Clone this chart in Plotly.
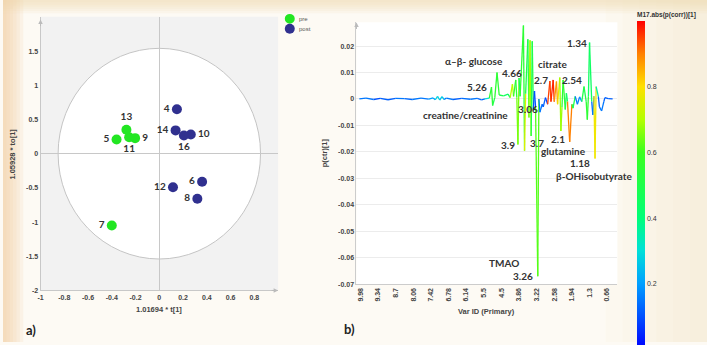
import plotly.graph_objects as go
from plotly.colors import sample_colorscale

# ---------------- Panel a: OPLS-DA scores ----------------
pre_ids = ["5", "7", "9", "11", "13"]
pre_t = [-0.36, -0.40, -0.204, -0.254, -0.277]
pre_to = [0.207, -1.05, 0.227, 0.24, 0.35]
pre_pos = ["middle left", "middle left", "middle right", "bottom center", "top center"]

post_ids = ["4", "6", "8", "10", "12", "14", "16"]
post_t = [0.148, 0.36, 0.32, 0.265, 0.115, 0.137, 0.207]
post_to = [0.65, -0.41, -0.66, 0.28, -0.49, 0.34, 0.265]
post_pos = ["middle left", "middle left", "middle left", "middle right",
            "middle left", "middle left", "bottom center"]

a_xticks = [-1, -0.8, -0.6, -0.4, -0.2, 0, 0.2, 0.4, 0.6, 0.8]
a_xticklabels = ["-1", "-0.8", "-0.6", "-0.4", "-0.2", "0", "0.2", "0.4", "0.6", "0.8"]
a_yticks = [-2, -1.5, -1, -0.5, 0, 0.5, 1, 1.5]
a_yticklabels = ["-2", "-1.5", "-1", "-0.5", "0", "0.5", "1", "1.5"]

# Hotelling T2 ellipse semi-axes
t2_a = 0.852
t2_b = 1.54

# ---------------- Panel b: loading line ----------------
var_id = [-1, 5, 12, 18, 25, 32, 40, 47, 55, 62, 66, 68, 70, 72, 74, 76, 78, 84, 92, 100, 106, 110, 113,
          117, 119, 120, 122, 124, 126, 130, 134, 136, 138, 139, 141, 142, 143, 144, 145, 148, 149, 150,
          152, 153, 154, 155, 156, 157, 158, 159, 161, 162, 163, 165, 166, 168, 170, 172, 173, 175, 176,
          178, 179, 181, 182, 183, 184, 186, 187, 188, 190, 192, 193, 195, 197, 199, 201, 203, 205, 206,
          207, 208, 210, 211, 212, 213, 214, 216, 217, 219, 221, 222, 225, 229]
p_ctr = [0.0, 0.0003, -0.0002, 0.0002, -0.0003, 0.0002, 0.0001, -0.0002, 0.0003, -0.0001, 0.0004,
         -0.0003, 0.0010, -0.0004, 0.0009, -0.0002, 0.0003, -0.0002, 0.0002, -0.0001, 0.0002, -0.0003, 0.0,
         0.0003, 0.0045, -0.0025, 0.0005, 0.0100, 0.0015, 0.0012, 0.0018, 0.0005, 0.0056, 0.0010, 0.0072,
         0.0005, -0.0172, 0.0079, 0.0010, 0.0278, -0.0196, 0.0020,
         0.0226, -0.0070, 0.0222, -0.0140, 0.0218, -0.0040, 0.0030, -0.0030, -0.0670, 0.0000, -0.0050,
         -0.0020, -0.0030, 0.0005, -0.0020, 0.0068, -0.0010, 0.0072, -0.0010,
         0.0066, -0.0020, 0.0081, -0.0121, -0.0030, 0.0072, -0.0040, 0.0022, -0.0010, -0.0162, -0.0020,
         -0.0035, 0.0010, -0.0020, 0.0008, -0.0010, 0.0047, -0.0010, -0.0078,
         0.0010, 0.0213, -0.0010, -0.0060, 0.0010, -0.0225, 0.0047, 0.0010, -0.0030, -0.0045, -0.0010,
         0.0005, 0.0001, 0.0]
p_corr = [0.12, 0.15, 0.10, 0.14, 0.12, 0.15, 0.10, 0.13, 0.15, 0.12, 0.2, 0.18, 0.28, 0.2, 0.26, 0.15,
          0.15, 0.12, 0.14, 0.12, 0.15, 0.13, 0.15,
          0.3, 0.55, 0.5, 0.3, 0.55, 0.5, 0.5, 0.45, 0.3, 0.7, 0.4, 0.55, 0.3, 0.65, 0.45, 0.15, 0.55, 0.75,
          0.3,
          0.5, 0.15, 0.68, 0.3, 0.5, 0.1, 0.1, 0.15, 0.62, 0.2, 0.15, 0.1, 0.12, 0.15, 0.08, 0.95, 0.2,
          0.97, 0.3,
          0.88, 0.3, 0.78, 0.68, 0.4, 0.55, 0.5, 0.45, 0.2, 0.9, 0.15, 0.5, 0.2, 0.15, 0.2, 0.2, 0.5, 0.2,
          0.55,
          0.3, 0.45, 0.15, 0.15, 0.2, 0.78, 0.35, 0.2, 0.12, 0.15, 0.12, 0.12, 0.12, 0.12]

b_tickvals = [0, 16, 32, 48, 64, 80, 96, 112, 128, 144, 160, 176, 192, 208, 224]
b_ticktext = ["9.98", "9.34", "8.7", "8.06", "7.42", "6.78", "6.14", "5.5", "4.5", "3.86",
              "3.22", "2.58", "1.94", "1.3", "0.66"]
b_yticks = [-0.07, -0.06, -0.05, -0.04, -0.03, -0.02, -0.01, 0, 0.01, 0.02]
b_yticklabels = ["-0.07", "-0.06", "-0.05", "-0.04", "-0.03", "-0.02", "-0.01", "0", "0.01", "0.02"]

# metabolite labels: (text, var position, loading level)
peak_labels = ["α–β- glucose", "5.26", "4.66", "creatine/creatinine", "3.06", "citrate", "2.7",
               "2.54", "1.34", "3.9", "3.7", "2.1", "glutamine", "1.18", "β-OHisobutyrate",
               "TMAO", "3.26"]
label_var = [103.1, 105.8, 137.4, 95.8, 151.9, 174.5, 163.7, 191.7, 196.2, 133.8, 160.0, 179.0,
             184.4, 199.8, 212.5, 130.2, 147.4]
label_val = [0.0143, 0.0047, 0.0100, -0.0059, -0.0038, 0.0132, 0.0070, 0.0070, 0.0212, -0.0175,
             -0.0167, -0.0153, -0.0198, -0.0243, -0.0292, -0.0621, -0.0670]

# legend entries
legend_names = ["pre", "post"]
legend_cols = ["#22e622", "#30308f"]

corr_scale = [[0.0, "#0000ff"], [0.2, "#00a0ff"], [0.3, "#00e0d8"], [0.4, "#00ff78"],
              [0.6, "#3cff1e"], [0.7, "#b4ff00"], [0.8, "#ffe000"], [0.9, "#ff8000"], [1.0, "#ff0000"]]

PRE_COL = legend_cols[0]
POST_COL = legend_cols[1]
LAB_FONT = "Lato"
AX_FONT = "Liberation Sans"

fig = go.Figure()

# panel a traces
fig.add_trace(go.Scatter(
    x=pre_t, y=pre_to, mode="markers+text", name="pre", text=pre_ids, textposition=pre_pos,
    marker=dict(size=10, color=PRE_COL),
    textfont=dict(family=LAB_FONT, size=10, color="#333333", weight="bold"),
    xaxis="x", yaxis="y", hoverinfo="skip", showlegend=False))
fig.add_trace(go.Scatter(
    x=post_t, y=post_to, mode="markers+text", name="post", text=post_ids, textposition=post_pos,
    marker=dict(size=10, color=POST_COL),
    textfont=dict(family=LAB_FONT, size=10, color="#333333", weight="bold"),
    xaxis="x", yaxis="y", hoverinfo="skip", showlegend=False))

# panel b: line segments coloured by |p(corr)|
for i in range(len(var_id) - 1):
    j = i if abs(p_ctr[i]) >= abs(p_ctr[i + 1]) else i + 1
    col = sample_colorscale(corr_scale, [p_corr[j]])[0]
    fig.add_trace(go.Scatter(
        x=[var_id[i], var_id[i + 1]], y=[p_ctr[i], p_ctr[i + 1]], mode="lines",
        line=dict(color=col, width=1.3), showlegend=False, hoverinfo="skip",
        xaxis="x2", yaxis="y2"))

# colour bar carrier
fig.add_trace(go.Scatter(
    x=[None], y=[None], mode="markers", showlegend=False, hoverinfo="skip",
    marker=dict(color=[0], cmin=0, cmax=1, colorscale=corr_scale, showscale=True,
                colorbar=dict(x=0.901, xanchor="left", y=0.458, yanchor="middle",
                              lenmode="pixels", len=328, thickness=8, outlinewidth=0,
                              tickvals=[0.2, 0.4, 0.6, 0.8], ticktext=["0.2", "0.4", "0.6", "0.8"],
                              ticks="", xpad=0, ypad=0,
                              tickfont=dict(family=AX_FONT, size=7, color="#333333"))),
    xaxis="x2", yaxis="y2"))

# annotations for peaks
ann = []
for txt, xv, yv in zip(peak_labels, label_var, label_val):
    ann.append(dict(x=xv, y=yv, xref="x2", yref="y2", text=txt, showarrow=False,
                    font=dict(family=LAB_FONT, size=10, color="#333333", weight="bold")))

def pann(text, px, py, size=7.5, angle=0, xanchor="center", family=AX_FONT, color="#444444",
         weight="bold"):
    ann.append(dict(x=px / 707, y=1 - py / 345, xref="paper", yref="paper", text=text,
                    showarrow=False, textangle=angle, xanchor=xanchor, yanchor="middle",
                    font=dict(family=family, size=size, color=color, weight=weight)))

pann("1.01694 * t[1]", 157, 312)
pann("1.05928 * to[1]", 10, 155, angle=-90)
pann("Var ID (Primary)", 486, 314)
pann("p(ctr)[1]", 323, 154, angle=-90)
pann("M17.abs(p(corr))[1]", 635, 15, size=6.5, xanchor="left", color="#333333")
pann("a)", 28, 333, size=13, family=LAB_FONT, color="#222222")
pann("b)", 348, 332, size=13, family=LAB_FONT, color="#222222")

# axis arrow heads
for (xr, yr, xv, yv, axv, ayv) in [("x", "y", -1, 1.96, 0, 8), ("x", "y", 1.0, -2, -8, 0),
                                    ("x2", "y2", -3.6, 0.0289, 0, 8)]:
    ann.append(dict(x=xv, y=yv, xref=xr, yref=yr, ax=axv, ay=ayv, text="", showarrow=True,
                    arrowhead=2, arrowsize=0.9, arrowwidth=1, arrowcolor="#bbbbbb"))

shapes = []
# page vignette
for k in range(6):
    w = 0.004 * (k + 1)
    shapes.append(dict(type="rect", xref="paper", yref="paper", x0=0, x1=w * 1.2, y0=0, y1=1,
                       fillcolor="#f2cfa0", opacity=0.16, line_width=0, layer="below"))
    shapes.append(dict(type="rect", xref="paper", yref="paper", x0=1 - w * 6, x1=1, y0=0, y1=1,
                       fillcolor="#f6dfbd", opacity=0.07, line_width=0, layer="below"))
    shapes.append(dict(type="rect", xref="paper", yref="paper", x0=0, x1=1, y0=1 - w * 1.6, y1=1,
                       fillcolor="#f3dcae", opacity=0.14, line_width=0, layer="below"))
# panel a background and ellipse
shapes.append(dict(type="rect", xref="x domain", yref="y domain", x0=0, x1=1, y0=0, y1=1,
                   fillcolor="#f2f2f2", line_width=0, layer="below"))
shapes.append(dict(type="circle", xref="x", yref="y", x0=-t2_a, x1=t2_a, y0=-t2_b, y1=t2_b,
                   fillcolor="white", line=dict(color="#c4c4c4", width=1), layer="below"))
# panel b background
shapes.append(dict(type="rect", xref="x2 domain", yref="y2 domain", x0=0, x1=1, y0=0, y1=1,
                   fillcolor="white", line_width=0, layer="below"))

# compact legend (swatch + label), rows 10 px apart
for k, (nm, cl) in enumerate(zip(legend_names, legend_cols)):
    cy = 19 + 10 * k
    shapes.append(dict(type="circle", xref="paper", yref="paper",
                       x0=(288 - 5) / 707, x1=(288 + 5) / 707,
                       y0=1 - (cy + 5) / 345, y1=1 - (cy - 5) / 345,
                       fillcolor=cl, line_width=0, layer="above"))
    pann(nm, 295, cy, size=6, xanchor="left", color="#555555", weight="normal")

tickf = dict(family=AX_FONT, size=7, color="#444444", weight="bold")
fig.update_layout(
    width=707, height=345, margin=dict(l=0, r=0, t=0, b=0),
    paper_bgcolor="#fdfaf4", plot_bgcolor="rgba(0,0,0,0)",
    showlegend=False,
    xaxis=dict(domain=[0.0533, 0.3908], range=[-1, 1], tickvals=a_xticks, ticktext=a_xticklabels,
               showgrid=False, zeroline=True, zerolinecolor="#c8c8c8", zerolinewidth=1,
               showline=True, linecolor="#c8c8c8", ticks="", tickfont=tickf, anchor="y"),
    yaxis=dict(domain=[0.1507, 0.9507], range=[-2, 2], tickvals=a_yticks, ticktext=a_yticklabels,
               showgrid=False, zeroline=True, zerolinecolor="#c8c8c8", zerolinewidth=1,
               showline=True, linecolor="#c8c8c8", ticks="", tickfont=tickf, anchor="x"),
    xaxis2=dict(domain=[0.5021, 0.8727], range=[-3.6, 233.3], tickvals=b_tickvals,
                ticktext=b_ticktext, tickangle=-90, showgrid=False, zeroline=False,
                showline=True, linecolor="#cccccc", ticks="", tickfont=tickf, anchor="y2"),
    yaxis2=dict(domain=[0.169, 0.935], range=[-0.07, 0.029], tickvals=b_yticks,
                ticktext=b_yticklabels, showgrid=True, gridcolor="#ececec", gridwidth=1,
                zeroline=False, showline=True, linecolor="#cccccc", ticks="", tickfont=tickf,
                anchor="x2"),
    annotations=ann, shapes=shapes,
)

fig.write_html("out.html", config={"displayModeBar": False},
               post_script="document.body.style.margin='0';")
